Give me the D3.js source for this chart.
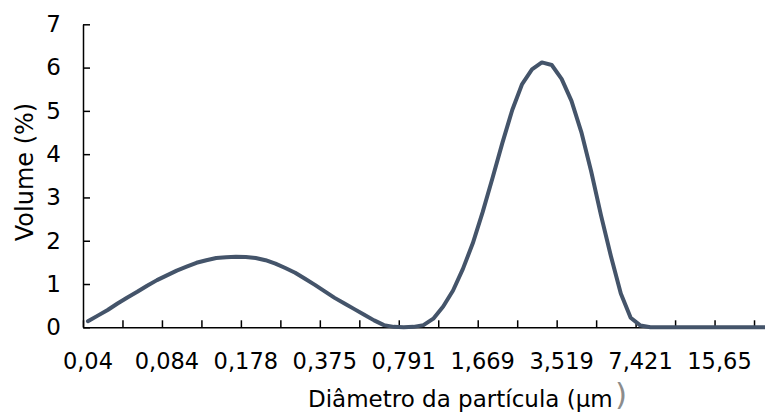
<!DOCTYPE html>
<html>
<head>
<meta charset="utf-8">
<script src="https://cdn.jsdelivr.net/npm/d3@7"></script>
<style>
  html, body { margin: 0; padding: 0; background: #fff; }
  svg { display: block; }
  text { font-family: "DejaVu Sans", sans-serif; fill: #000; }
</style>
</head>
<body>
<svg id="chart" width="765" height="414"></svg>
<script>
// Particle size distribution: volume (%) per size channel
const volume = [
  0.14, 0.27, 0.40, 0.55, 0.69, 0.82, 0.96, 1.09, 1.20, 1.31,
  1.40, 1.49, 1.55, 1.60, 1.62, 1.63, 1.625, 1.60, 1.55, 1.47,
  1.37, 1.26, 1.12, 0.98, 0.83, 0.68, 0.55, 0.42, 0.29, 0.16,
  0.05, 0.01, 0.00, 0.01, 0.05, 0.20, 0.48, 0.85, 1.35, 1.94,
  2.66, 3.45, 4.26, 5.02, 5.62, 5.96, 6.12, 6.06, 5.74, 5.23,
  4.51, 3.60, 2.58, 1.64, 0.78, 0.22, 0.04, 0.00, 0.00, 0.00,
  0.00, 0.00, 0.00, 0.00, 0.00, 0.00, 0.00, 0.00, 0.00, 0.00
];
// Channel diameters shown on the axis (every 8th channel)
const tickLabels = ["0,04", "0,084", "0,178", "0,375", "0,791", "1,669", "3,519", "7,421", "15,65"];
const labelEvery = 8;
const markEvery = 4;
const yTicks = [0, 1, 2, 3, 4, 5, 6, 7];

const svg = d3.select("#chart");
const x0 = 83, step = 9.868;
const axisY = 327.3, topY = 24.3;
const n = volume.length;

const x = d3.scaleBand()
  .domain(d3.range(n))
  .range([x0, x0 + n * step])
  .paddingInner(0).paddingOuter(0);
const xEdge = d3.scaleLinear().domain([0, n]).range([x0, x0 + n * step]);
const y = d3.scaleLinear().domain([0, 7]).range([axisY, topY]);

// x axis: tick marks between channel groups (inside), labels at channel centres
const gxMarks = svg.append("g")
  .attr("transform", `translate(0,${axisY})`)
  .call(d3.axisBottom(xEdge)
    .tickValues(d3.range(0, n + 1, markEvery))
    .tickSizeInner(-7).tickSizeOuter(0)
    .tickFormat(""));
gxMarks.select(".domain").attr("stroke", "#000").attr("stroke-width", 1.5);
gxMarks.selectAll(".tick line").attr("stroke", "#000").attr("stroke-width", 1.5);

const gxLabels = svg.append("g")
  .attr("transform", `translate(0,${axisY})`)
  .call(d3.axisBottom(x)
    .tickValues(d3.range(0, tickLabels.length * labelEvery, labelEvery))
    .tickSize(0).tickPadding(26)
    .tickFormat(i => tickLabels[i / labelEvery]));
gxLabels.select(".domain").remove();
gxLabels.selectAll("text")
  .style("font-family", "DejaVu Sans")
  .style("font-size", "22.5px")
  .attr("fill", "#000");

// y axis
const gy = svg.append("g")
  .attr("transform", `translate(${x0},0)`)
  .call(d3.axisLeft(y)
    .tickValues(yTicks)
    .tickSizeInner(-7).tickSizeOuter(0)
    .tickPadding(22)
    .tickFormat(d3.format("d")));
gy.select(".domain").attr("stroke", "#000").attr("stroke-width", 1.5);
gy.selectAll(".tick line").attr("stroke", "#000").attr("stroke-width", 1.5);
gy.selectAll("text")
  .style("font-family", "DejaVu Sans")
  .style("font-size", "23px")
  .attr("fill", "#000");

// distribution curve
const line = d3.line()
  .x((d, i) => x(i) + x.bandwidth() / 2)
  .y(d => y(d))
  .curve(d3.curveLinear);
svg.append("path")
  .datum(volume)
  .attr("d", line)
  .attr("fill", "none")
  .attr("stroke", "#44546A")
  .attr("stroke-width", 4)
  .attr("stroke-linejoin", "round")
  .attr("stroke-linecap", "round");

// axis titles
svg.append("text")
  .attr("transform", "translate(33,172) rotate(-90)")
  .attr("text-anchor", "middle")
  .style("font-size", "24px")
  .text("Volume (%)");

svg.append("text")
  .attr("x", 308)
  .attr("y", 406.5)
  .style("font-size", "23px")
  .text("Diâmetro da partícula (µm");
svg.append("text")
  .attr("x", 615)
  .attr("y", 405)
  .style("font-size", "31px")
  .style("fill", "#8c8c8c")
  .text(")");
</script>
</body>
</html>
